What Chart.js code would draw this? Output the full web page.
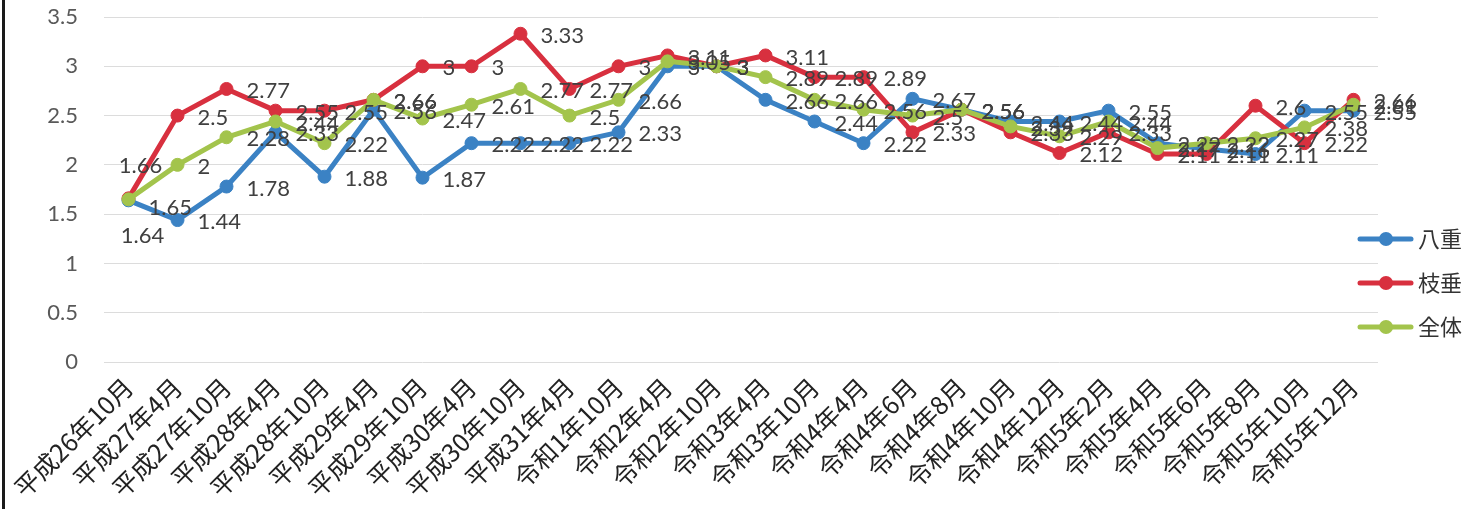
<!DOCTYPE html>
<html>
<head>
<meta charset="utf-8">
<script src="https://cdn.jsdelivr.net/npm/chart.js@4.4.1/dist/chart.umd.min.js"></script>
<style>
  html, body { margin: 0; padding: 0; background: #ffffff; }
  #wrap { width: 1468px; height: 509px; position: relative; }
</style>
</head>
<body>
<div id="wrap"><canvas id="c" width="1468" height="509"></canvas></div>
<script>
const categories = [
  '平成26年10月','平成27年4月','平成27年10月','平成28年4月','平成28年10月','平成29年4月',
  '平成29年10月','平成30年4月','平成30年10月','平成31年4月','令和1年10月','令和2年4月',
  '令和2年10月','令和3年4月','令和3年10月','令和4年4月','令和4年6月','令和4年8月',
  '令和4年10月','令和4年12月','令和5年2月','令和5年4月','令和5年6月','令和5年8月',
  '令和5年10月','令和5年12月'
];
const yaeValues = [1.64,1.44,1.78,2.33,1.88,2.56,1.87,2.22,2.22,2.22,2.33,3,3,2.66,2.44,2.22,2.67,2.56,2.44,2.44,2.55,2.22,2.16,2.11,2.55,2.55];
const shidareValues = [1.66,2.5,2.77,2.55,2.55,2.66,3,3,3.33,2.77,3,3.11,3,3.11,2.89,2.89,2.33,2.56,2.33,2.12,2.33,2.11,2.11,2.6,2.22,2.66];
const zentaiValues = [1.65,2,2.28,2.44,2.22,2.66,2.47,2.61,2.77,2.5,2.66,3.05,3,2.89,2.66,2.56,2.5,2.56,2.39,2.29,2.44,2.17,2.22,2.27,2.38,2.61];
const seriesNames = ['八重','枝垂','全体'];
const yTicks = [0,0.5,1,1.5,2,2.5,3,3.5];

const colors = ['#3b82c4', '#d8303f', '#a3c44c'];
const latin = "Lato, 'Noto Sans', sans-serif";
const cjk = "'Noto Sans CJK JP', 'Noto Sans', sans-serif";

const dataLabelPlugin = {
  id: 'dataLabels',
  afterDatasetsDraw(chart) {
    const ctx = chart.ctx;
    ctx.save();
    ctx.font = '22px ' + latin;
    ctx.fillStyle = '#404040';
    ctx.textBaseline = 'middle';
    chart.data.datasets.forEach((ds, di) => {
      const meta = chart.getDatasetMeta(di);
      meta.data.forEach((pt, i) => {
        const txt = String(ds.data[i]);
        let x = pt.x + 20, y = pt.y + 2;
        ctx.textAlign = 'left';
        if (i === 0) {
          if (di === 0) { ctx.textAlign = 'center'; x = pt.x + 14; y = pt.y + 36; }
          if (di === 1) { ctx.textAlign = 'center'; x = pt.x + 12; y = pt.y - 32; }
          if (di === 2) { x = pt.x + 20; y = pt.y + 9; }
        }
        ctx.fillText(txt, x, y);
      });
    });
    ctx.restore();
  }
};

const legendPlugin = {
  id: 'customLegend',
  afterDraw(chart) {
    const ctx = chart.ctx;
    ctx.save();
    const rows = [239, 283, 327];
    seriesNames.forEach((name, i) => {
      const y = rows[i];
      ctx.strokeStyle = colors[i];
      ctx.lineWidth = 5;
      ctx.lineCap = 'round';
      ctx.beginPath();
      ctx.moveTo(1360, y);
      ctx.lineTo(1411, y);
      ctx.stroke();
      ctx.fillStyle = colors[i];
      ctx.beginPath();
      ctx.arc(1386, y, 7, 0, Math.PI * 2);
      ctx.fill();
      ctx.fillStyle = '#333333';
      ctx.font = '22px ' + cjk;
      ctx.textAlign = 'left';
      ctx.textBaseline = 'middle';
      ctx.fillText(name, 1418, y);
    });
    ctx.fillStyle = '#1a1a1a';
    ctx.fillRect(2, 0, 3, 509);
    ctx.restore();
  }
};

const mk = (label, data, color, order) => ({
  label, data,
  borderColor: color,
  backgroundColor: color,
  borderWidth: 5,
  pointRadius: 6.5,
  pointBorderWidth: 1,
  pointBackgroundColor: color,
  pointBorderColor: color,
  tension: 0,
  order
});

new Chart(document.getElementById('c'), {
  type: 'line',
  data: {
    labels: categories,
    datasets: [
      mk(seriesNames[0], yaeValues, colors[0], 2),
      mk(seriesNames[1], shidareValues, colors[1], 1),
      mk(seriesNames[2], zentaiValues, colors[2], 0)
    ]
  },
  options: {
    responsive: false,
    animation: false,
    layout: { padding: { left: 0, right: 90, top: 17, bottom: 0 } },
    plugins: { legend: { display: false }, tooltip: { enabled: false }, title: { display: false } },
    scales: {
      x: {
        type: 'category',
        offset: true,
        grid: { display: false, drawTicks: false },
        border: { display: false },
        ticks: {
          autoSkip: false,
          maxRotation: 45,
          minRotation: 45,
          padding: 10,
          color: '#222222',
          font: { family: cjk, size: 25 }
        },
        afterFit(scale) {
          scale.height = 147;
          scale.paddingLeft = 0; scale.paddingRight = 0;
        }
      },
      y: {
        min: 0,
        max: 3.5,
        afterBuildTicks(scale) { scale.ticks = yTicks.map(v => ({ value: v })); },
        grid: { color: '#dcdcdc', lineWidth: 1, drawTicks: false },
        border: { display: false },
        ticks: {
          padding: 26,
          color: '#595959',
          font: { family: latin, size: 22 },
          callback: (v) => String(v)
        },
        afterFit(scale) {
          scale.width = 104;
          scale.paddingTop = 0; scale.paddingBottom = 0;
        }
      }
    }
  },
  plugins: [dataLabelPlugin, legendPlugin]
});
</script>
</body>
</html>
